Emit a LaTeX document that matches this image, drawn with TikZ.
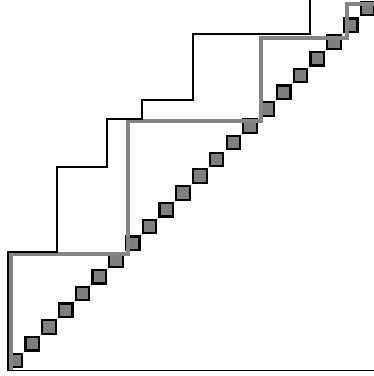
\documentclass[tikz,border=0pt]{standalone}
\usepackage{xcolor}
\usepackage{tikz}
\usetikzlibrary{calc}
\definecolor{stairgray}{HTML}{858585}
\definecolor{markgray}{HTML}{7F7F7F}
\tikzset{
  marker/.style={
    draw=black,
    fill=markgray,
    line width=2.2pt,
    inner sep=0pt,
    minimum size=13.5pt
  },
  upperstair/.style={
    draw=black,
    line width=2pt
  },
  lowerstair/.style={
    draw=stairgray,
    line width=3.4pt
  },
  axisline/.style={
    draw=black,
    line width=2pt
  }
}

\begin{document}
\begin{tikzpicture}[x=1pt,y=1pt]
    \useasboundingbox (0,0) rectangle (374,376);
    % diagonal markers
    \foreach \i in {0,...,21}
      \node[marker] (sq\i) at ({15.5+16.76*\i},{15.5+16.76*\i}) {};
    % corner points
    \coordinate (origin) at (8.3,5.5);
    \coordinate (xend) at (376,5.5);
    \draw[lowerstair] (11,5.5) |- (128,122) |- (261,255) |- (347,338) |- (376,372);
    \draw[upperstair] (origin) |- (57,124) |- (107,209) |- (142,257) |- (193,276)
      |- (310,342) -- (310,378);
    \draw[axisline] (7,5.5) -- (xend);
  \end{tikzpicture}
\end{document}
